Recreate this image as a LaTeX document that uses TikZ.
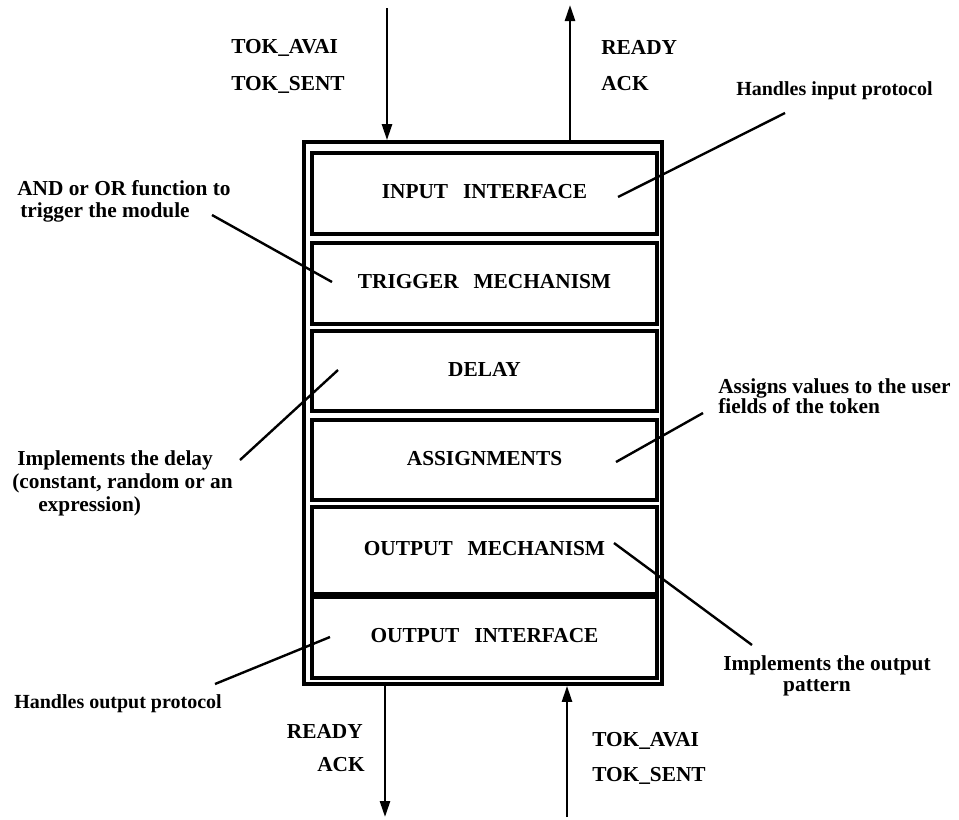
\documentclass[tikz,border=0pt]{standalone}
\usepackage{fontspec}
\setmainfont{Liberation Serif}
\usetikzlibrary{arrows.meta}
\begin{document}
\begin{tikzpicture}[x=0.75pt,y=-0.75pt,
  every node/.style={font=\fontsize{16}{17}\selectfont\bfseries, inner sep=0pt, text height=11pt, text depth=3.5pt},
  small/.style={font=\fontsize{15}{16}\selectfont\bfseries},
  blk/.style={draw, line width=2.5pt, minimum width=258.75pt},
  outerbox/.style={draw, line width=2.8pt, minimum width=268.5pt, minimum height=406.5pt},
  sig/.style={line width=1.9pt, -{Triangle[length=12pt,width=7.5pt]}},
  lead/.style={line width=1.8pt},
  lab/.style={anchor=west},
  labr/.style={anchor=east},
]
\useasboundingbox (0,0) rectangle (959,819);
\def\gap{\hspace{0.7em}}
% outer frame
\node[outerbox] (outer) at (483,413) {};
% inner blocks
\node[blk, minimum height=60.75pt] (inp) at (484.5,193.5) {INPUT\gap INTERFACE};
\node[blk, minimum height=60.75pt] (trg) at (484.5,283.5) {TRIGGER\gap MECHANISM};
\node[blk, minimum height=60pt]    (dly) at (484.5,371)   {DELAY};
\node[blk, minimum height=60pt]    (asg) at (484.5,460)   {ASSIGNMENTS};
\node[blk, minimum height=65.25pt] (omc) at (484.5,550.5) {OUTPUT\gap MECHANISM};
\node[blk, minimum height=60.75pt] (oif) at (484.5,637.5) {OUTPUT\gap INTERFACE};

% signal arrows
\coordinate (tin) at (387,8);
\coordinate (tout) at (570,5);
\coordinate (bout) at (385,817);
\coordinate (bin) at (567,817);
\draw[sig] (tin) -- (tin |- outer.north);
\draw[sig] (tout |- outer.north) -- (tout);
\draw[sig] (bout |- outer.south) -- (bout);
\draw[sig] (bin) -- (bin |- outer.south);

% signal labels
\node[lab] (tokavaiA) at (231,48) {TOK\_AVAI};
\node[lab] (toksentA) at (231,85) {TOK\_SENT};
\node[lab] (readyA) at (601,49) {READY};
\node[lab] (ackA) at (601,85) {ACK};
\node[labr] (readyB) at (363,733) {READY};
\node[labr] (ackB) at (365,766) {ACK};
\node[lab] (tokavaiB) at (592,741) {TOK\_AVAI};
\node[lab] (toksentB) at (592,776) {TOK\_SENT};

% annotations
\node[lab, small] (nin) at (736,90) {Handles input protocol};
\node[lab] (ntrA) at (17,190) {AND or OR function to};
\node[lab] (ntrB) at (20,212) {trigger the module};
\node[lab] (ndlA) at (17,460) {Implements the delay};
\node[lab] (ndlB) at (12,483) {(constant, random or an};
\node[lab] (ndlC) at (38,506) {expression)};
\node[lab] (nasA) at (718,388) {Assigns values to the user};
\node[lab] (nasB) at (718,408) {fields of the token};
\node[lab] (nomA) at (723,665) {Implements the output};
\node (nomB) at (817,686) {pattern};
\node[lab, small] (noi) at (14,703) {Handles output protocol};

% leader lines
\coordinate (lin1) at (785,113);  \coordinate (lin2) at (618,197);
\coordinate (ltr1) at (212,215);  \coordinate (ltr2) at (332,282);
\coordinate (ldl1) at (240,460);  \coordinate (ldl2) at (338,370);
\coordinate (las1) at (703,413);  \coordinate (las2) at (616,462);
\coordinate (lom1) at (614,543);  \coordinate (lom2) at (752,645);
\coordinate (loi1) at (215,684);  \coordinate (loi2) at (330,637);
\draw[lead] (lin1) -- (lin2);
\draw[lead] (ltr1) -- (ltr2);
\draw[lead] (ldl1) -- (ldl2);
\draw[lead] (las1) -- (las2);
\draw[lead] (lom1) -- (lom2);
\draw[lead] (loi1) -- (loi2);
\end{tikzpicture}
\end{document}
